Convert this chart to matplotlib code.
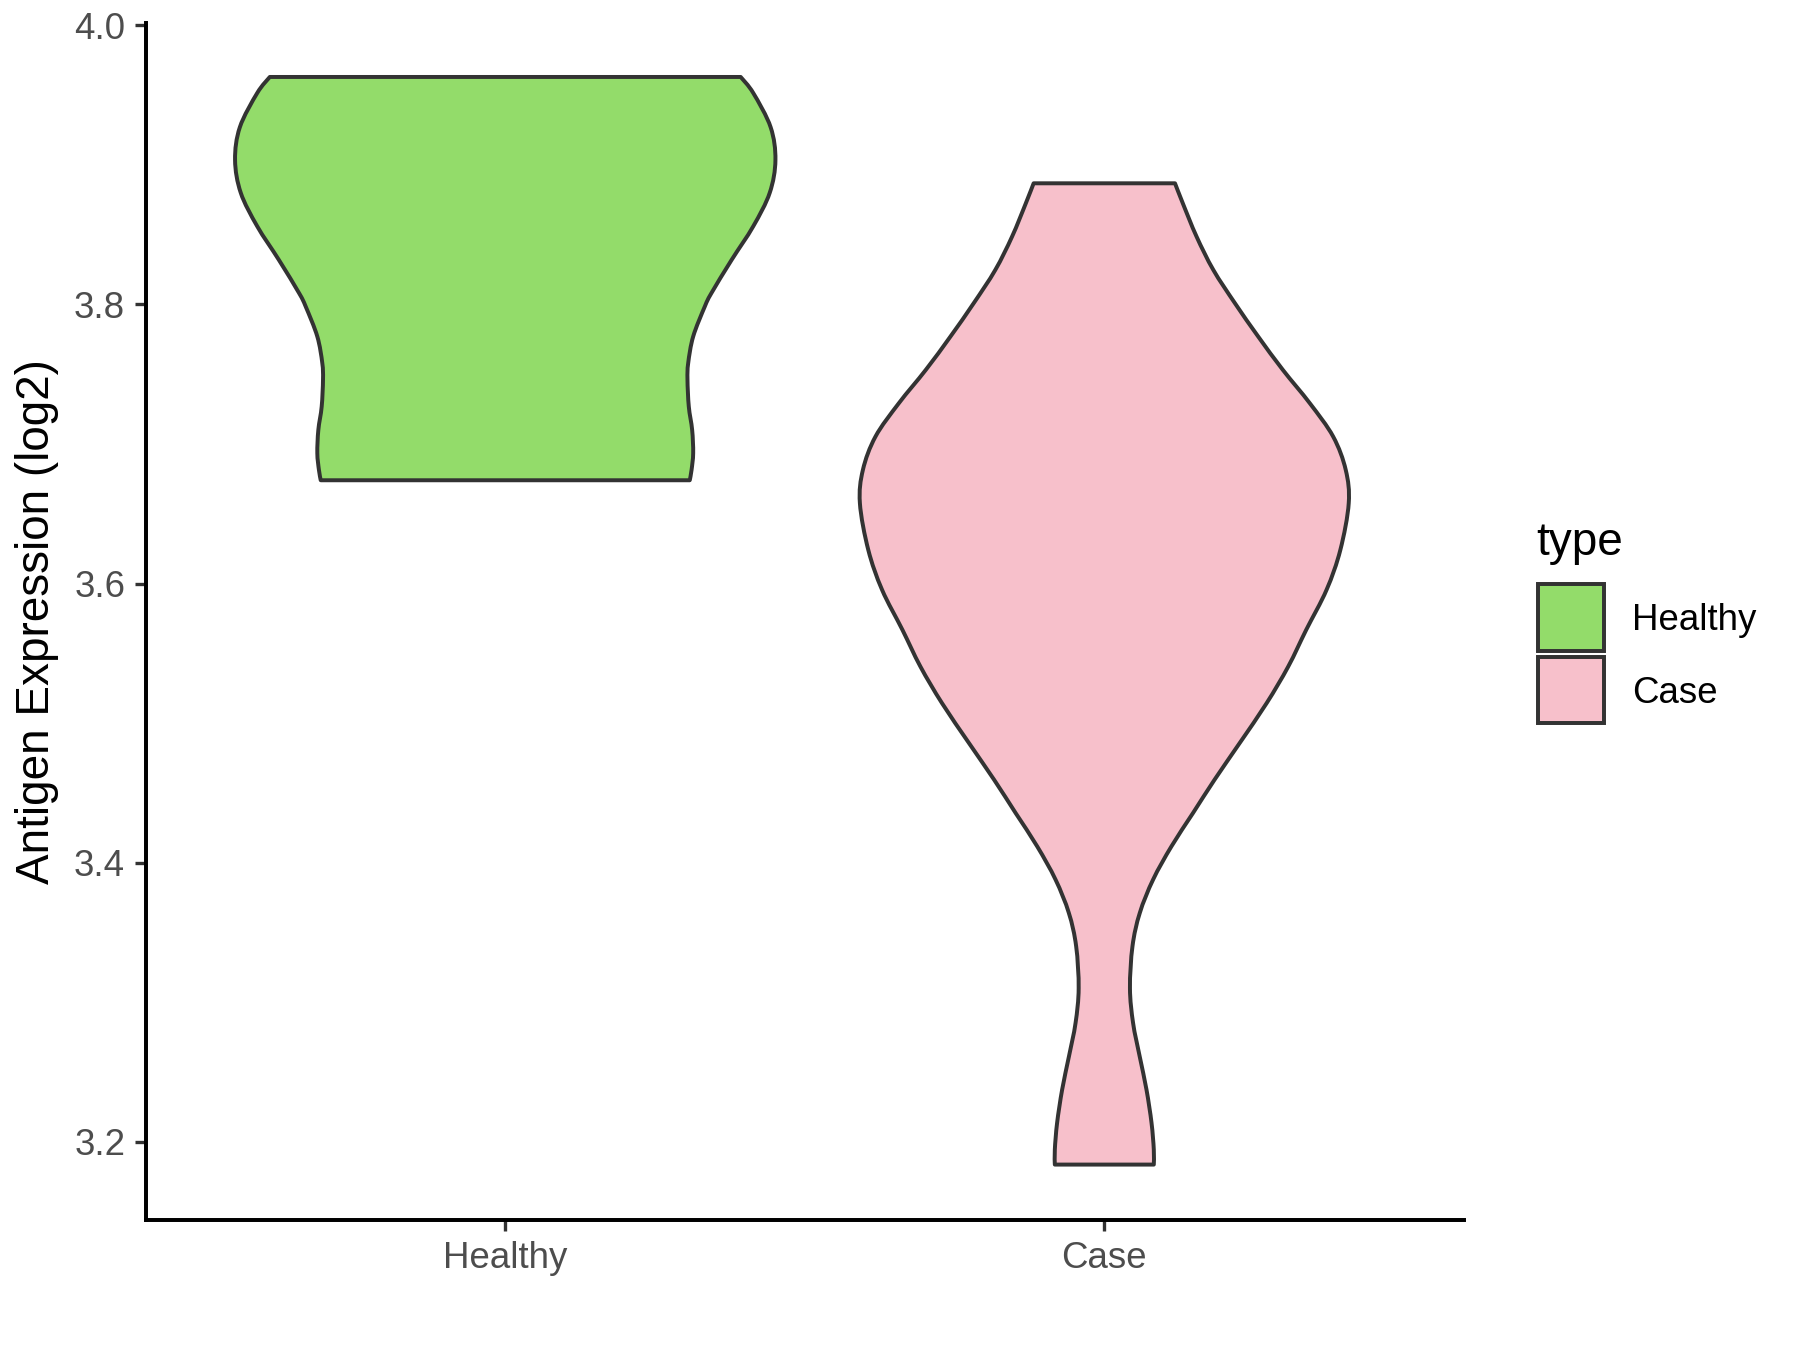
import numpy as np
import matplotlib.pyplot as plt
from matplotlib.patches import Rectangle, PathPatch
from matplotlib.path import Path

# categories and fill colours
groups = ["Healthy", "Case"]
fill_colors = ["#93DC6A", "#F7C0CB"]

# violin outlines: expression level and half-width (x units)
healthy_y = [3.674, 3.6814, 3.6934, 3.710, 3.7268, 3.746, 3.758, 3.777, 3.7984,
             3.808, 3.832, 3.856, 3.880, 3.9035, 3.927, 3.9515, 3.963]
healthy_hw = [0.308, 0.311, 0.3137, 0.312, 0.3064, 0.3042, 0.3054, 0.3137, 0.333,
              0.344, 0.378, 0.414, 0.4415, 0.451, 0.443, 0.414, 0.393]

case_y = [3.1836, 3.1944, 3.2135, 3.2373, 3.2612, 3.2851, 3.3100, 3.3400, 3.3639,
          3.3878, 3.4116, 3.4355, 3.4594, 3.4857, 3.5143, 3.5405, 3.5668, 3.5955,
          3.6241, 3.6576, 3.6814, 3.7053, 3.7292, 3.7531, 3.7769, 3.8009, 3.8247,
          3.8486, 3.8725, 3.8868]
case_hw = [0.0826, 0.0826, 0.0788, 0.0704, 0.059, 0.048, 0.0428, 0.047, 0.0592,
           0.0814, 0.112, 0.148, 0.184, 0.226, 0.271, 0.307, 0.337, 0.371,
           0.394, 0.408, 0.403, 0.382, 0.343, 0.298, 0.257, 0.218, 0.182,
           0.154, 0.131, 0.118]

y_ticks = [3.2, 3.4, 3.6, 3.8, 4.0]


def smooth_side(pts):
    """Bezier segments (Catmull-Rom style) through the outline points of one side."""
    verts, codes = [], []
    n = len(pts)
    for i in range(n - 1):
        p0 = pts[max(i - 1, 0)]
        p1 = pts[i]
        p2 = pts[i + 1]
        p3 = pts[min(i + 2, n - 1)]
        c1 = p1 + (p2 - p0) / 6.0
        c2 = p2 - (p3 - p1) / 6.0
        verts += [c1, c2, p2]
        codes += [Path.CURVE4] * 3
    return verts, codes


def violin_path(pos, ys, hw):
    ys = np.asarray(ys)
    hw = np.asarray(hw)
    left = np.column_stack([pos - hw, ys])              # bottom -> top
    right = np.column_stack([pos + hw, ys])[::-1]        # top -> bottom
    verts = [left[0]]
    codes = [Path.MOVETO]
    v, c = smooth_side(left)
    verts += v
    codes += c
    verts.append(right[0])
    codes.append(Path.LINETO)
    v, c = smooth_side(right)
    verts += v
    codes += c
    verts.append(left[0])
    codes.append(Path.CLOSEPOLY)
    return Path(np.array(verts), codes)


plt.rcParams["font.family"] = ["Liberation Sans", "DejaVu Sans"]

fig = plt.figure(figsize=(12, 9), dpi=150)
ax = fig.add_axes([0.081, 0.0961, 0.7322, 0.8872])

profiles = [(healthy_y, healthy_hw), (case_y, case_hw)]
for i, (ys, hw) in enumerate(profiles):
    patch = PathPatch(violin_path(i + 1, ys, hw), facecolor=fill_colors[i],
                      edgecolor="#333333", linewidth=1.9, joinstyle="round",
                      zorder=2)
    ax.add_patch(patch)

ax.set_xlim(0.4, 2.6)
ax.set_ylim(3.1437, 4.002)
ax.set_xticks([1, 2])
ax.set_xticklabels(groups)
ax.set_yticks(y_ticks)
ax.set_yticklabels([f"{v:.1f}" for v in y_ticks])

for side in ["top", "right"]:
    ax.spines[side].set_visible(False)
for side in ["left", "bottom"]:
    ax.spines[side].set_linewidth(1.9)
    ax.spines[side].set_color("black")

ax.tick_params(axis="both", length=5.5, width=1.6, color="#333333",
               labelsize=17.6, labelcolor="#4D4D4D", pad=4.4)

ax.set_ylabel("Antigen Expression (log2)", fontsize=22, color="black")
ax.yaxis.set_label_coords(-0.066, 0.5)

# legend drawn by hand to match ggplot's key layout
fig.text(0.8533, 0.5889, "type", fontsize=22, color="black",
         ha="left", va="baseline")
key_bottoms = [0.5178, 0.4644]
label_baselines = [0.5333, 0.479]
for i, g in enumerate(groups):
    fig.add_artist(Rectangle((0.8544, key_bottoms[i]), 0.0367, 0.0493,
                             transform=fig.transFigure, facecolor=fill_colors[i],
                             edgecolor="#333333", linewidth=1.9))
    fig.text(0.9065, label_baselines[i], g, fontsize=17.6, color="black",
             ha="left", va="baseline")

fig.savefig("out.png", dpi=150)
